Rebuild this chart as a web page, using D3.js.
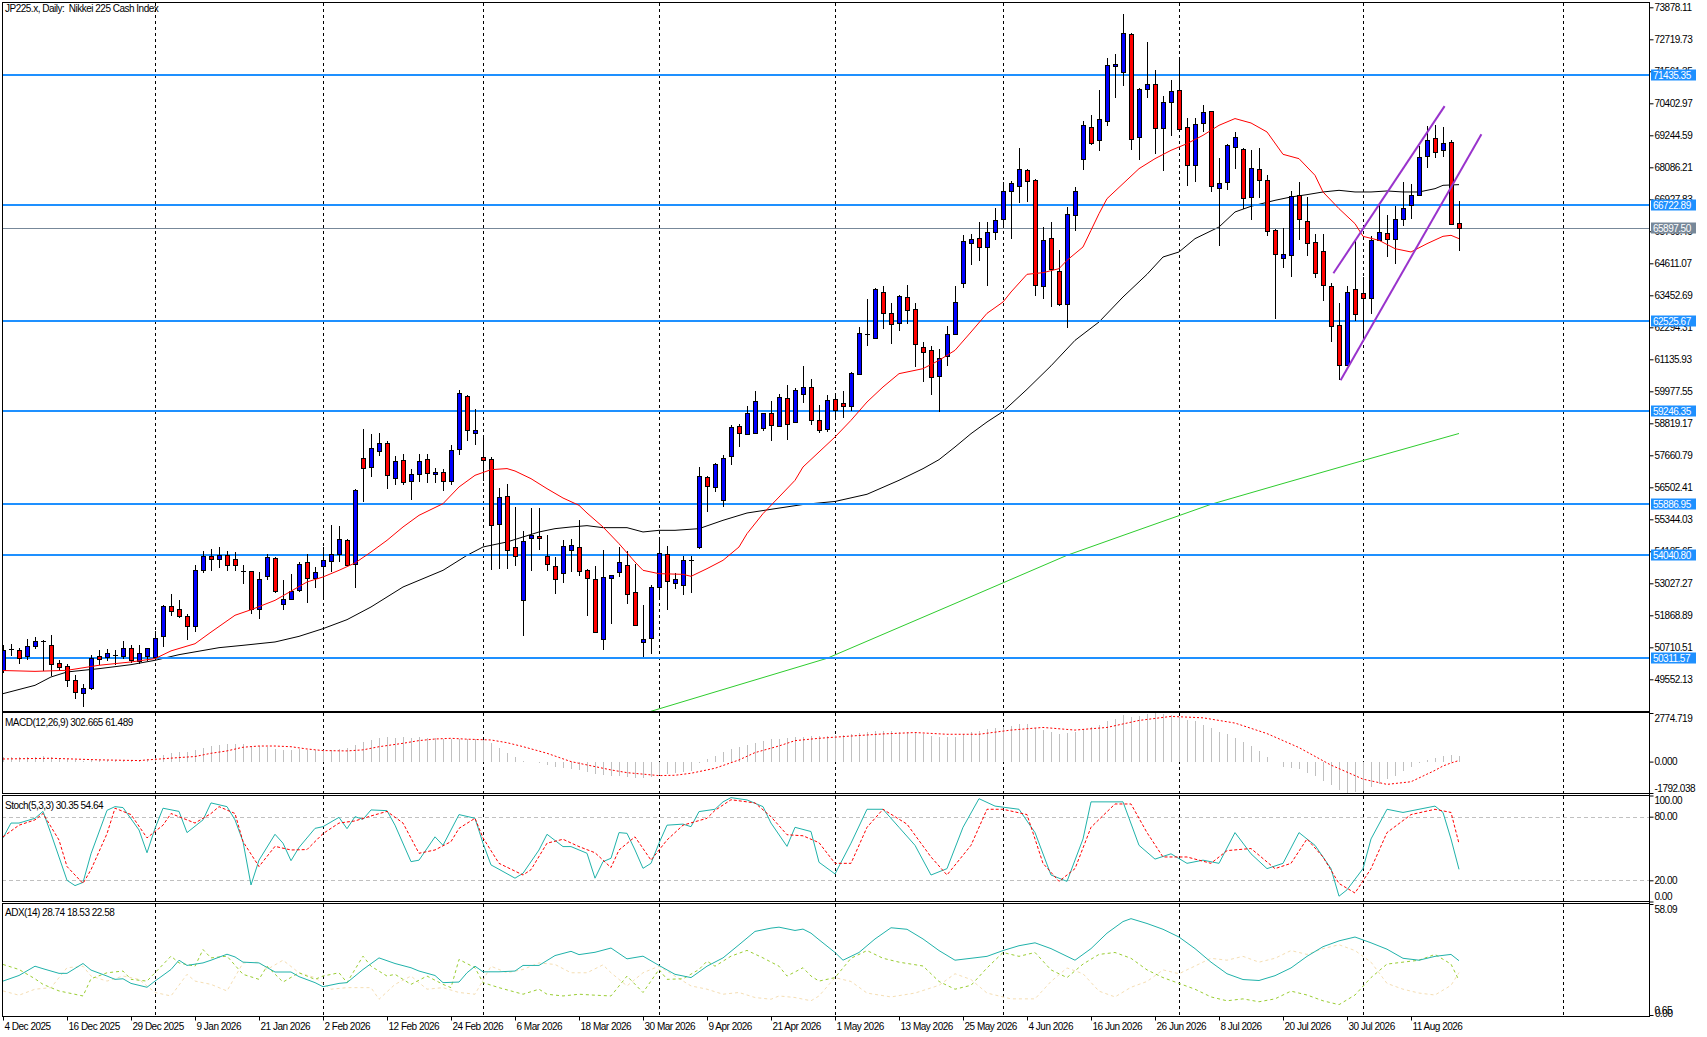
<!DOCTYPE html>
<html>
<head>
<meta charset="utf-8">
<script src="https://cdn.jsdelivr.net/npm/d3@7"></script>
<style>
  body { margin: 0; background: #fff; }
  svg text { font-family: "Liberation Sans", Arial, sans-serif; font-size: 10px; letter-spacing: -0.5px; }
</style>
</head>
<body>
<svg id="chart" width="1707" height="1037"></svg>
<script>
// ---- data ----
var holidays = ['2025-12-25', '2026-01-01'];

var open = [
49880,50640,50630,50410,50770,50910,50810,50160,50050,49540,
49070,49240,50400,50360,50400,50400,50700,50200,50400,50360,
51110,52200,52080,51830,51480,53520,54020,53900,54050,53900,
53480,53470,52100,53290,53960,52290,52470,52770,53800,53220,
53670,53850,54080,54610,53730,57580,57240,57830,58120,56840,
57500,56740,57000,57530,57000,57070,56740,57900,59820,58480,
57610,57540,55190,56200,54330,52440,54680,54750,54030,53670,
53410,54230,54350,53520,53200,51020,53230,53440,53700,52720,
50910,51060,52890,54100,53050,52980,53880,54350,56890,56530,
56060,57650,58730,58440,58480,58660,59200,58730,59750,58870,
59890,60150,58950,58630,59710,59540,59450,60620,62050,61920,
63590,62820,62460,63400,62970,61590,61490,60520,61270,62060,
63910,65360,65540,65210,65740,66230,67230,67410,68000,67640,
63800,65540,64350,63150,66370,68400,69560,69090,69780,71770,
71540,72920,69200,70930,71110,69520,70460,70900,69560,68180,
69700,70140,67350,67570,68830,68760,67010,68040,67620,65830,
64820,64920,67100,66130,65400,65070,63800,62390,60940,63690,
63550,63370,65470,65720,65500,66230,66730,67100,68480,69140,
68730,69020,66080];

var high = [
50780,50820,50700,51020,51080,50960,51140,50260,50090,49700,
49370,50420,50600,50660,50630,50930,50780,50780,50700,51300,
52230,52630,52410,51900,53700,54180,54280,54330,54200,54150,
53700,53480,53440,54100,53970,53140,53350,53800,54100,53620,
54340,55150,55090,54640,56450,58630,58420,58480,58170,57650,
57700,57150,57720,57700,57210,57170,58050,60040,59860,59350,
58410,57590,56480,56610,55790,54910,55770,55740,54790,53980,
54580,54620,55310,53530,53650,54250,53320,54340,54190,53710,
52230,52950,54720,54370,53400,54000,54000,57230,56900,57370,
57670,58750,58810,59430,59980,59210,59620,59870,60190,60100,
60910,60440,59470,59830,59890,59980,60680,62310,63330,63700,
63780,63190,63450,63810,63190,61780,61610,61500,62330,63790,
65620,65660,66100,66100,66630,67540,67580,68770,68010,67650,
65930,66090,65080,66650,67390,69750,69990,70870,72060,72200,
73620,72960,70970,72610,71600,70660,71240,71960,69880,69880,
70350,70140,68410,68940,69350,68770,68700,68800,67800,65840,
65890,67230,67560,67010,65660,65660,63900,63170,63780,65420,
64120,65610,66710,66350,66670,67560,67470,68870,69580,69620,
69550,69090,66870];

var low = [
49800,50430,50140,50300,50700,49880,49700,49880,49300,48890,
48600,49210,50120,50240,50120,50320,50180,50160,50240,50300,
50750,51870,51810,51000,51300,53440,53500,53620,53520,53500,
53040,51950,51780,53200,52730,52100,52460,52750,52350,52890,
52470,53470,53850,53690,52890,56010,56910,57680,56490,56630,
56630,56080,56730,56700,56700,56420,56630,57720,58200,58080,
56780,53560,53580,53580,53680,51140,53500,54270,53500,52680,
53070,53470,53320,51870,51260,50660,51590,53280,52310,51510,
50380,50520,52560,52110,52870,52630,52710,54320,55650,56370,
55810,57360,58010,58430,58470,58590,58230,58720,58260,58850,
59590,58810,58500,58540,58990,59050,59290,60610,61640,61910,
62270,61740,62190,62450,60890,60350,59890,59280,60940,62060,
63770,64570,64740,63840,65490,65930,65530,66830,66860,63460,
63370,63080,63110,62310,65820,68030,68940,68710,69610,70630,
71070,68750,68390,70630,68600,68000,69260,69450,67460,67600,
69390,67230,65290,67300,68070,66630,66230,67010,65620,62630,
64480,64150,65500,64920,64120,63300,61800,60440,60920,62570,
61880,62820,65460,64880,64620,66010,66260,67090,68110,68460,
68480,66040,65110];

var close = [
50600,50610,50340,50770,50930,50930,50120,50000,49540,49090,
49230,50320,50300,50520,50420,50700,50240,50520,50700,51060,
52200,52020,51830,51480,53520,54020,53900,54050,53680,53700,
53460,52100,53180,53980,52750,52470,52750,53740,53220,53450,
53880,54100,54640,53700,56420,57210,57940,58120,56960,57470,
56700,57000,57470,57030,57070,56740,57870,59930,58590,58590,
57500,55150,56160,54250,54000,54570,54760,54680,53740,53180,
54390,54430,53490,53220,51280,53270,53320,53810,52650,51530,
51020,52910,54140,53120,53200,53880,53870,56920,56560,57360,
57580,58700,58480,59200,59640,59200,58770,59780,58810,60040,
60150,58940,58570,59680,59290,59430,60650,62100,62040,63690,
62820,62430,63440,62930,61700,61410,60510,61200,62060,63220,
65420,65490,65190,65760,66190,67220,67510,68040,67600,63840,
65440,64420,63130,66410,67240,69630,68980,69820,71800,71840,
72960,69120,70930,71110,69520,70460,70860,69490,68160,69670,
70100,67420,67530,68910,69200,66990,68070,67620,65790,64940,
64960,67060,66230,65360,64270,63840,62340,60940,63590,62790,
63370,65470,65760,65500,66230,66630,67100,68470,69090,68650,
68950,66050,65897.5];

// moving averages, sampled [bar, value]
var maRed = [[0,49870],[4,49840],[8,49877],[12,50060],[16,50180],[19,50300],[21,50580],[24,50840],[26,51260],[29,51870],[31,52070],[34,52410],[38,53075],[40,53256],[42,53497],[44,53762],[46,54160],[48,54583],[50,55066],[52,55488],[55,55910],[57,56514],[59,56936],[61,57141],[63,57180],[64,57093],[66,56815],[68,56453],[70,56115],[72,55850],[73,55572],[75,55066],[77,54462],[79,53799],[80,53497],[82,53376],[85,53352],[86,53280],[88,53557],[90,53859],[92,54342],[93,54824],[95,55550],[97,56150],[99,56755],[100,57238],[104,58323],[106,58927],[108,59590],[110,60134],[112,60616],[115,60797],[117,61099],[119,61461],[121,62124],[123,62800],[125,63210],[126,63572],[128,64212],[130,64272],[132,64417],[133,64719],[135,65202],[136,65805],[137,66408],[138,66951],[140,67494],[142,68037],[144,68399],[146,68701],[148,68942],[150,69244],[152,69606],[154,69850],[156,69690],[158,69365],[160,68556],[162,68399],[164,67796],[165,67193],[167,66589],[169,66046],[170,65588],[172,65443],[174,65141],[176,65021],[178,65322],[180,65588],[181,65624],[182,65503]];
var maBlack = [[0,49032],[4,49334],[6,49636],[8,49817],[12,49937],[16,50082],[19,50239],[22,50444],[27,50697],[30,50782],[34,50903],[37,51107],[40,51385],[43,51711],[46,52170],[50,52893],[55,53497],[58,54040],[60,54342],[63,54523],[65,54704],[67,54885],[69,55005],[71,55066],[73,55114],[75,55041],[78,55041],[80,54885],[82,54945],[84,54945],[87,55005],[90,55307],[93,55572],[97,55750],[100,55880],[104,55990],[108,56250],[112,56755],[115,57177],[117,57503],[119,57962],[121,58444],[123,58867],[125,59246],[128,60050],[131,60900],[134,61822],[137,62487],[140,63392],[143,64212],[145,64839],[147,65021],[149,65503],[152,65925],[154,66469],[156,66674],[159,66891],[161,67012],[163,67096],[165,67193],[167,67253],[169,67193],[171,67193],[173,67229],[175,67193],[177,67193],[179,67313],[180,67434],[182,67458]];
var maGreen = [[78,48050],[81,48394],[90,49180],[103,50311],[110,51180],[120,52420],[133,54040],[140,54760],[151,55887],[160,56640],[170,57470],[182,58450]];

var levels = [71435.35, 66722.89, 62525.67, 59246.35, 55886.95, 54040.80, 50311.57];
var channelUpper = [[166.3, 64250], [180.2, 70300]];
var channelLower = [[167.2, 60380], [184.8, 69280]];

var priceTicks = [73878.11,72719.73,71561.35,70402.97,69244.59,68086.21,66927.83,65769.45,64611.07,63452.69,62294.31,61135.93,59977.55,58819.17,57660.79,56502.41,55344.03,54185.65,53027.27,51868.89,50710.51,49552.13];

var macdHist = [
260,270,250,270,290,300,270,230,170,110,
60,70,80,90,90,110,100,110,130,220,
400,470,520,540,680,800,880,940,990,1010,
1000,900,880,830,720,660,650,700,680,660,
660,670,700,760,950,1100,1250,1350,1380,1360,
1380,1370,1380,1360,1340,1300,1280,1300,1290,1280,
1260,1050,800,500,280,60,-20,-100,-200,-290,
-350,-440,-500,-570,-680,-760,-800,-820,-900,-950,
-960,-880,-760,-700,-660,-580,-510,-100,130,330,
520,700,860,960,1050,1150,1270,1300,1330,1380,
1420,1440,1460,1480,1500,1510,1560,1640,1690,1720,
1740,1720,1700,1690,1630,1560,1480,1400,1380,1420,
1560,1680,1770,1850,1920,2000,2060,2120,2130,1900,
1800,1700,1580,1620,1700,1880,1980,2100,2300,2450,
2640,2560,2580,2700,2774.719,2700,2650,2560,2400,2320,
2100,1900,1700,1550,1350,1100,900,600,250,-50,
-300,-350,-450,-650,-850,-1100,-1350,-1600,-1792.038,-1750,
-1650,-1450,-1250,-1000,-800,-550,-300,-100,100,220,
320,360,302.665];
var macdSignal = [[0,150],[6,190],[12,100],[17,60],[19,130],[22,230],[24,290],[26,475],[28,610],[30,820],[32,890],[34,890],[36,850],[38,720],[40,630],[43,610],[45,670],[47,850],[50,1045],[52,1200],[54,1290],[56,1330],[58,1280],[61,1235],[63,1080],[65,855],[68,475],[71,0],[73,-190],[76,-475],[78,-630],[82,-800],[84,-780],[86,-665],[89,-380],[92,95],[94,513],[97,893],[99,1197],[102,1330],[106,1460],[110,1580],[114,1660],[118,1560],[122,1560],[126,1800],[130,1950],[134,1800],[138,1950],[142,2350],[146,2580],[150,2500],[154,2200],[158,1600],[162,800],[166,-200],[170,-1000],[173,-1300],[176,-1150],[179,-500],[180,-250],[181,-80],[182,61.489]];

var stochMain = [[0,60],[1,74],[2,74],[4,78.5],[5,85],[6,64],[8,20],[9,15],[10,18],[11,45],[13,86],[14,89.5],[15,88.6],[17,67.5],[18,46],[19,69],[20,88],[22,85],[23,65],[25,77],[26,93],[28,89.5],[29,77],[30,56.5],[31,15.6],[32,39],[34,63.4],[35,55],[36,38.5],[37,51],[39,69],[40,70.6],[42,79.4],[43,68.7],[44,80],[45,77.5],[46,86.4],[48,85.7],[49,72],[51,37.6],[52,39],[54,61],[55,53],[57,82],[59,78.5],[60,55],[61,34.5],[62,30.4],[64,22],[65,26.6],[67,48.6],[68,63.4],[70,51.8],[71,51.8],[73,45.5],[74,22],[75,37.6],[76,40.8],[77,65],[78,64.3],[79,48.6],[80,31.3],[81,36],[82,55],[83,72],[85,73],[86,70.6],[87,84.8],[89,87],[90,94],[91,98],[93,95.8],[95,89.5],[96,74],[98,52],[99,70],[101,66],[102,37],[104,26],[106,55],[108,87],[110,87],[112,70],[114,53],[116,25],[118,31],[120,70],[122,97],[124,90],[127,87],[129,65],[131,25],[133,19],[135,59],[136,94],[138,94],[140,94],[142,53],[144,40],[146,45],[148,36],[150,39],[152,36],[154,65],[156,45],[158,31],[160,36],[162,65],[164,53],[166,31],[167,5],[168,11],[170,31],[171,59],[173,87],[175,84],[177,87],[179,90],[180,84],[181,59],[182,30.35]];
var stochSignal = [[0,61],[2,72],[4,77],[5,83],[7,58],[8,33],[10,17],[11,30],[13,64],[14,88],[16,82],[18,60],[20,72],[21,83],[24,74],[26,83],[27,89.5],[29,83],[30,56.5],[32,33],[34,52],[36,48.6],[38,49],[40,64],[42,74],[44,76],[46,80.7],[48,85],[50,74],[52,45.5],[54,48.6],[56,56.5],[57,69],[59,78.5],[60,60],[62,36],[65,25],[66,30],[68,55],[70,58.7],[72,51.8],[74,46],[76,32],[77,48.6],[79,61],[81,39],[83,58],[85,72],[88,78.5],[89,86],[91,96],[94,93],[96,80],[98,63],[100,62],[102,55.5],[104,36],[106,36],[108,70],[110,87],[113,73],[116,42],[118,25],[121,53],[123,87],[125,87],[128,82],[130,36],[132,19],[134,31],[136,70],[139,92],[141,92],[143,65],[145,42],[148,42],[151,36],[153,48],[156,50],[159,31],[161,36],[163,59],[165,42],[167,17],[169,8],[171,31],[173,65],[176,82],[179,87],[181,84],[182,54.64]];

var adxMain = [[0,18.2],[2,21.1],[4,25.9],[5,24.6],[7,22.2],[8,22.2],[10,27.3],[11,23.9],[13,20.8],[14,19.1],[15,19.4],[16,17],[18,15],[19,18.2],[21,24.2],[22,29],[23,26.3],[25,27.6],[26,29],[28,32.1],[29,30.7],[30,28],[32,27.6],[34,22.9],[36,22.9],[37,20.5],[39,17.4],[40,15.3],[42,17],[43,17.4],[45,24.2],[47,30.2],[49,27.3],[51,25.1],[52,23.4],[54,21.1],[55,17.4],[57,17.7],[58,22.5],[59,25.9],[60,23],[62,23],[64,23.4],[65,26.3],[67,26.3],[69,31.4],[71,33.6],[72,31.9],[74,33.1],[76,35.3],[78,29.7],[80,31.1],[82,26.3],[84,21.7],[86,20],[88,25.9],[90,30.2],[92,37],[94,43.9],[96,45.6],[97,46.1],[99,44.4],[100,45.1],[101,43],[102,39.6],[104,33],[105,29],[107,33],[109,40],[111,45.8],[113,45],[115,40],[117,34],[119,29],[121,30],[123,31],[125,34],[127,36.5],[129,38],[131,35],[133,31],[134,29],[136,35],[138,43],[140,49],[141,50.5],[143,48],[145,45],[147,41],[149,35],[151,28],[153,22],[155,19],[157,18.5],[159,21],[161,25],[163,31],[165,36],[167,39],[169,41],[171,38],[173,34.7],[175,30],[177,29],[179,31],[181,32],[182,28.74]];
var adxPlus = [[0,26.8],[2,24.2],[4,19.4],[5,16.5],[7,13.1],[10,10.5],[11,19.4],[13,22.5],[15,23.4],[16,19.1],[18,18.2],[19,22.5],[21,31.1],[22,27.6],[24,25.9],[25,34.5],[26,30.2],[28,31.1],[30,21.7],[32,19.1],[33,25.9],[35,17.7],[37,22.5],[39,19.1],[40,20.8],[42,22.5],[43,17.4],[45,31.1],[46,25.9],[48,20.8],[49,21.7],[51,16.5],[53,20.8],[55,16.5],[56,14.8],[57,29.4],[59,25.1],[60,17.4],[62,14.8],[65,11.4],[67,14],[68,11.4],[70,10.5],[72,11.4],[74,10.9],[76,10.5],[78,20.8],[80,12.3],[82,24.2],[83,19.1],[85,19.4],[87,24.2],[88,28.5],[89,25.9],[90,28.5],[91,31.1],[93,34.1],[95,30.2],[97,25.9],[98,20.8],[100,25.1],[101,20.8],[102,18.2],[104,20],[106,30],[108,34],[110,30],[112,28],[115,26],[117,18],[119,14],[121,16],[123,25],[125,33],[127,31],[129,33],[131,24],[133,20],[135,27],[137,32],[139,33],[141,30],[143,24],[145,20],[147,17],[149,14],[151,10],[153,8],[155,9],[157,7.5],[159,9],[161,13],[163,11],[165,8],[167,6],[169,11],[171,20],[173,27],[175,28],[177,29],[179,32],[181,27],[182,18.53]];
var adxMinus = [[0,13.1],[2,10.9],[4,14],[6,14.8],[8,25.1],[10,25.9],[11,20.8],[13,18.2],[15,20.8],[17,19.1],[19,12.3],[21,10.5],[23,21.7],[24,18.2],[26,16.5],[28,13.1],[30,27.6],[32,28],[33,24.2],[35,29],[37,22.5],[39,20],[41,14],[43,14.8],[46,14.8],[47,8.8],[49,16.5],[51,20.8],[53,14],[55,14.8],[57,12.3],[59,11.4],[61,25.9],[63,22.5],[65,24.2],[67,27.6],[69,26.8],[71,22.5],[73,22.5],[75,26.6],[76,22.5],[78,15.7],[80,22.5],[82,25.9],[84,20.8],[86,15.7],[88,14],[90,11.4],[92,12.3],[94,9.7],[96,8.8],[97,10.5],[99,9.7],[101,8],[102,10.5],[104,20],[106,18],[108,12],[111,10],[114,12],[117,16],[119,22],[121,19],[123,12],[126,9],[129,9],[131,18],[133,25],[135,22],[137,13],[139,10],[141,15],[143,18],[145,24],[147,22],[149,26],[151,30],[153,29],[155,31],[157,28],[159,30],[161,34],[163,32],[165,35],[167,37],[169,34],[171,28],[173,17],[175,14],[177,12],[179,11],[181,16],[182,22.58]];

var futureMonthBars = [195];

// ---- layout ----
var svg = d3.select('#chart');
var axisX = 1649;
var panels = {
  main:  { top: 2,   bottom: 711 },
  macd:  { top: 712, bottom: 793 },
  stoch: { top: 795, bottom: 901 },
  adx:   { top: 903, bottom: 1016 }
};

var x = d3.scaleLinear().domain([0, 205.625]).range([3, 1648]);
var yPrice = d3.scaleLinear().domain([49552.13, 73878.11]).range([679.3, 7.3]);
var yMacd = d3.scaleLinear().domain([-1792.038, 2774.719]).range([793, 713]);
var yStoch = d3.scaleLinear().domain([0, 100]).range([901.5, 795.5]);
var yAdx = d3.scaleLinear().domain([0.65, 58.09]).range([1015, 904]);

// trading days
var dayKey = d3.timeFormat('%Y-%m-%d');
var dates = [];
for (var d = new Date(2025, 11, 4); dates.length < close.length; d.setDate(d.getDate() + 1)) {
  var wd = d.getDay();
  if (wd === 0 || wd === 6 || holidays.indexOf(dayKey(d)) >= 0) continue;
  dates.push(new Date(d));
}
var monthBars = dates.map(function(dt, i){ return i; }).filter(function(i){
  return i > 0 && dates[i].getMonth() !== dates[i - 1].getMonth();
}).concat(futureMonthBars);

var defs = svg.append('defs');
Object.keys(panels).forEach(function(k){
  var p = panels[k];
  defs.append('clipPath').attr('id', 'clip-' + k).append('rect')
    .attr('x', 3).attr('y', p.top + 1).attr('width', axisX - 3).attr('height', p.bottom - p.top - 1);
});

function panelGroup(k){
  return svg.append('g').attr('clip-path', 'url(#clip-' + k + ')');
}

// vertical month grid in every panel
Object.keys(panels).forEach(function(k){
  var p = panels[k];
  svg.append('g').selectAll('line').data(monthBars).join('line')
    .attr('x1', function(i){ return Math.round(x(i)) + 0.5; })
    .attr('x2', function(i){ return Math.round(x(i)) + 0.5; })
    .attr('y1', p.top + 1).attr('y2', p.bottom)
    .attr('stroke', '#000').attr('stroke-width', 1).attr('stroke-dasharray', '3,3');
});

// ---- main panel ----
var main = panelGroup('main');

var line = function(yS){
  return d3.line().x(function(p){ return x(p[0]); }).y(function(p){ return yS(p[1]); });
};

main.append('path').attr('d', line(yPrice)(maGreen)).attr('fill', 'none').attr('stroke', '#2ecc2e').attr('stroke-width', 1);
main.append('path').attr('d', line(yPrice)(maBlack)).attr('fill', 'none').attr('stroke', '#000').attr('stroke-width', 1);

main.selectAll('line.level').data(levels).join('line').attr('class', 'level')
  .attr('x1', 2).attr('x2', axisX)
  .attr('y1', function(v){ return Math.round(yPrice(v)); })
  .attr('y2', function(v){ return Math.round(yPrice(v)); })
  .attr('stroke', '#1e90ff').attr('stroke-width', 2);

var lastPrice = close[close.length - 1];
main.append('line').attr('x1', 2).attr('x2', axisX)
  .attr('y1', Math.round(yPrice(lastPrice)) + 0.5).attr('y2', Math.round(yPrice(lastPrice)) + 0.5)
  .attr('stroke', '#778899').attr('stroke-width', 1);

var bars = close.map(function(c, i){ return { i: i, o: open[i], h: high[i], l: low[i], c: c }; });

main.selectAll('line.wick').data(bars).join('line').attr('class', 'wick')
  .attr('x1', function(b){ return Math.round(x(b.i)) + 0.5; })
  .attr('x2', function(b){ return Math.round(x(b.i)) + 0.5; })
  .attr('y1', function(b){ return Math.round(yPrice(b.h)); })
  .attr('y2', function(b){ return Math.round(yPrice(b.l)) + 1; })
  .attr('stroke', '#000').attr('stroke-width', 1);

bars.forEach(function(b){
  var top = Math.round(yPrice(Math.max(b.o, b.c)));
  var bot = Math.round(yPrice(Math.min(b.o, b.c)));
  var cx = Math.round(x(b.i));
  if (bot - top < 2) {
    main.append('line').attr('x1', cx - 2).attr('x2', cx + 3)
      .attr('y1', top + 0.5).attr('y2', top + 0.5).attr('stroke', '#000').attr('stroke-width', 1);
  } else {
    main.append('rect').attr('x', cx - 1.5).attr('y', top + 0.5)
      .attr('width', 4).attr('height', bot - top)
      .attr('fill', b.c >= b.o ? '#0000ff' : '#ff0000')
      .attr('stroke', '#000').attr('stroke-width', 1);
  }
});

main.append('path').attr('d', line(yPrice)(maRed)).attr('fill', 'none').attr('stroke', '#ff0000').attr('stroke-width', 1);

[channelUpper, channelLower].forEach(function(seg){
  main.append('path').attr('d', line(yPrice)(seg)).attr('fill', 'none')
    .attr('stroke', '#9933cc').attr('stroke-width', 2);
});

// ---- MACD ----
var gm = panelGroup('macd');
gm.selectAll('line').data(macdHist).join('line')
  .attr('x1', function(v, i){ return Math.round(x(i)) + 0.5; })
  .attr('x2', function(v, i){ return Math.round(x(i)) + 0.5; })
  .attr('y1', Math.round(yMacd(0)))
  .attr('y2', function(v){ return Math.round(yMacd(v)); })
  .attr('stroke', '#c0c0c0').attr('stroke-width', 1);
gm.append('path').attr('d', line(yMacd)(macdSignal)).attr('fill', 'none')
  .attr('stroke', '#ff0000').attr('stroke-width', 1).attr('stroke-dasharray', '2,2');

// ---- Stochastic ----
var gs = panelGroup('stoch');
[80, 20].forEach(function(v){
  gs.append('line').attr('x1', 2).attr('x2', axisX)
    .attr('y1', Math.round(yStoch(v)) + 0.5).attr('y2', Math.round(yStoch(v)) + 0.5)
    .attr('stroke', '#c0c0c0').attr('stroke-dasharray', '4,3');
});
gs.append('path').attr('d', line(yStoch)(stochMain)).attr('fill', 'none').attr('stroke', '#20b2aa').attr('stroke-width', 1);
gs.append('path').attr('d', line(yStoch)(stochSignal)).attr('fill', 'none')
  .attr('stroke', '#ff0000').attr('stroke-width', 1).attr('stroke-dasharray', '3,2');

// ---- ADX ----
var ga = panelGroup('adx');
ga.append('path').attr('d', line(yAdx)(adxMinus)).attr('fill', 'none')
  .attr('stroke', '#f5deb3').attr('stroke-width', 1).attr('stroke-dasharray', '3,3');
ga.append('path').attr('d', line(yAdx)(adxPlus)).attr('fill', 'none')
  .attr('stroke', '#9acd32').attr('stroke-width', 1).attr('stroke-dasharray', '3,3');
ga.append('path').attr('d', line(yAdx)(adxMain)).attr('fill', 'none').attr('stroke', '#20b2aa').attr('stroke-width', 1);

// ---- panel frames ----
Object.keys(panels).forEach(function(k){
  var p = panels[k];
  svg.append('rect').attr('x', 2.5).attr('y', p.top + 0.5)
    .attr('width', axisX - 2).attr('height', p.bottom - p.top)
    .attr('fill', 'none').attr('stroke', '#000').attr('stroke-width', 1);
});

// ---- right axes ----
function rightAxis(yS, ticks, fmt, shifts){
  var g = svg.append('g').attr('transform', 'translate(' + (axisX + 0.5) + ',0)')
    .call(d3.axisRight(yS).tickValues(ticks).tickFormat(fmt).tickSize(4).tickPadding(1));
  g.select('.domain').remove();
  g.attr('font-family', null).attr('font-size', null);
  g.selectAll('.tick line').attr('stroke', '#000');
  g.selectAll('.tick text').attr('fill', '#000');
  if (shifts) {
    g.selectAll('.tick text').attr('dy', function(v){ return shifts[v] != null ? shifts[v] : '0.32em'; });
  }
  return g;
}
rightAxis(yPrice, priceTicks, function(v){ return v.toFixed(2); });
rightAxis(yMacd, [2774.719, 0, -1792.038], function(v){ return v.toFixed(3); }, { '2774.719': 8, '-1792.038': -2 });
rightAxis(yStoch, [100, 80, 20, 0], function(v){ return v.toFixed(2); }, { '100': 8, '0': -2 });
rightAxis(yAdx, [58.09, 0.65], function(v){ return v.toFixed(2); }, { '58.09': 8, '0.65': -2 });
svg.append('text').attr('x', axisX + 6).attr('y', yAdx(0.65) + 2).text('0.00');

// main axis line across all panels
svg.append('line').attr('x1', axisX + 0.5).attr('x2', axisX + 0.5).attr('y1', 2).attr('y2', 1016)
  .attr('stroke', '#000').attr('stroke-width', 1);

// level tags on the price axis
var tags = levels.map(function(v){ return { v: v, c: '#1e90ff' }; }).concat([{ v: lastPrice, c: '#778899' }]);
var tagG = svg.append('g').selectAll('g').data(tags).join('g')
  .attr('transform', function(t){ return 'translate(' + (axisX + 2) + ',' + Math.round(yPrice(t.v)) + ')'; });
tagG.append('rect').attr('x', 0).attr('y', -5.5).attr('width', 45).attr('height', 11).attr('fill', function(t){ return t.c; });
tagG.append('text').attr('x', 2).attr('y', 4).attr('fill', '#fff').text(function(t){ return t.v.toFixed(2); });

// ---- bottom date axis ----
var labelBars = d3.range(0, close.length, 8);
var fmtDate = d3.timeFormat('%-d %b %Y');
var gx = svg.append('g').attr('transform', 'translate(0,' + (panels.adx.bottom + 0.5) + ')')
  .call(d3.axisBottom(x).tickValues(labelBars).tickFormat(function(i){ return fmtDate(dates[i]); }).tickSize(4).tickPadding(2));
gx.select('.domain').remove();
gx.attr('font-family', null).attr('font-size', null);
gx.selectAll('.tick line').attr('stroke', '#000');
gx.selectAll('.tick text').attr('text-anchor', 'start').attr('x', 1).attr('fill', '#000');

// ---- titles ----
svg.append('text').attr('x', 5).attr('y', 12).style('white-space', 'pre').text('JP225.x, Daily:  Nikkei 225 Cash Index');
svg.append('text').attr('x', 5).attr('y', panels.macd.top + 14).text('MACD(12,26,9) 302.665 61.489');
svg.append('text').attr('x', 5).attr('y', panels.stoch.top + 14).text('Stoch(5,3,3) 30.35 54.64');
svg.append('text').attr('x', 5).attr('y', panels.adx.top + 13).text('ADX(14) 28.74 18.53 22.58');
</script>
</body>
</html>
